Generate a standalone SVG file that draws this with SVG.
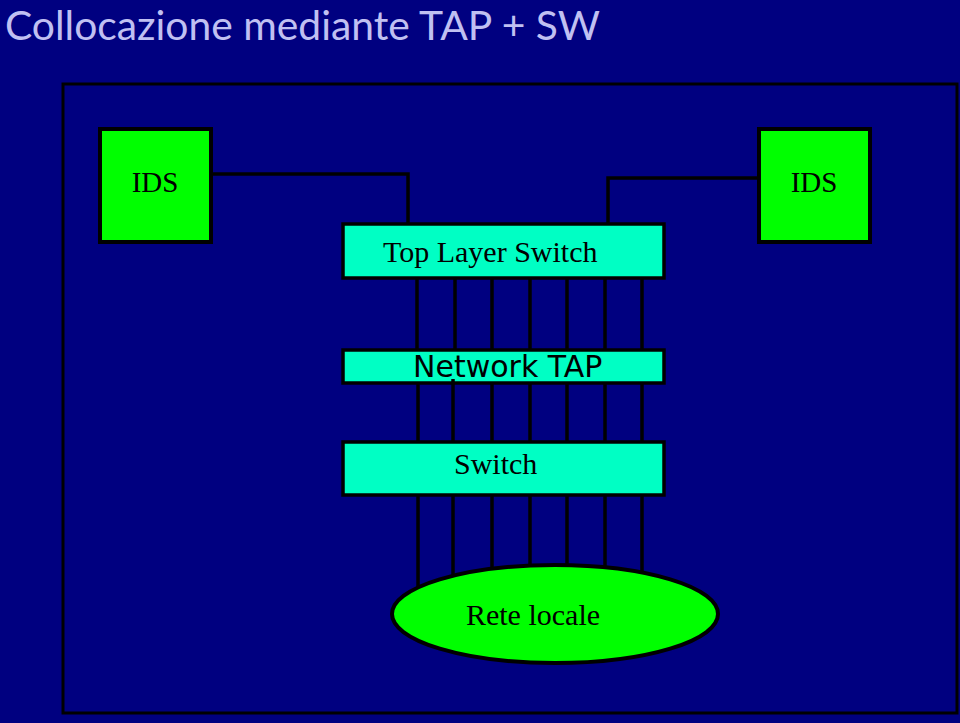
<svg xmlns="http://www.w3.org/2000/svg" width="960" height="723" viewBox="0 0 960 723">
<style>
.bg{fill:#000080}
.frame{fill:none;stroke:#000;stroke-width:3}
.ids{fill:#00ff00;stroke:#000;stroke-width:4}
.box{fill:#00ffc4;stroke:#000;stroke-width:3.5}
.lan{fill:#00ff00;stroke:#000;stroke-width:4}
.wire{fill:none;stroke:#000;stroke-width:3.5}
.serif{font-family:"Liberation Serif","Times New Roman",serif;fill:#000}
.sans{font-family:"DejaVu Sans","Verdana",sans-serif;fill:#000}
.title{font-family:Lato,"Open Sans",sans-serif;fill:#c0c0f2;font-size:40.8px}
</style>
<rect class="bg" x="0" y="0" width="960" height="723"/>
<text class="title" x="5" y="40">Collocazione mediante TAP + SW</text>
<rect class="frame" x="63" y="84" width="894" height="629"/>
<g id="connectors">
<polyline class="wire" points="211,174 408,174 408,224"/>
<polyline class="wire" points="759,178 608,178 608,224"/>
<line class="wire" x1="417" y1="278" x2="417" y2="350"/>
<line class="wire" x1="455" y1="278" x2="455" y2="350"/>
<line class="wire" x1="492" y1="278" x2="492" y2="350"/>
<line class="wire" x1="530" y1="278" x2="530" y2="350"/>
<line class="wire" x1="567" y1="278" x2="567" y2="350"/>
<line class="wire" x1="605" y1="278" x2="605" y2="350"/>
<line class="wire" x1="642" y1="278" x2="642" y2="350"/>
<line class="wire" x1="418" y1="383" x2="418" y2="442"/>
<line class="wire" x1="453" y1="378" x2="453" y2="442"/>
<line class="wire" x1="492" y1="383" x2="492" y2="442"/>
<line class="wire" x1="530" y1="383" x2="530" y2="442"/>
<line class="wire" x1="567" y1="383" x2="567" y2="442"/>
<line class="wire" x1="605" y1="383" x2="605" y2="442"/>
<line class="wire" x1="642" y1="383" x2="642" y2="442"/>
<line class="wire" x1="418" y1="495" x2="418" y2="600"/>
<line class="wire" x1="453" y1="495" x2="453" y2="600"/>
<line class="wire" x1="492" y1="495" x2="492" y2="600"/>
<line class="wire" x1="530" y1="495" x2="530" y2="600"/>
<line class="wire" x1="567" y1="495" x2="567" y2="600"/>
<line class="wire" x1="605" y1="495" x2="605" y2="600"/>
<line class="wire" x1="642" y1="495" x2="642" y2="600"/>
</g>
<g id="ids-left">
<rect class="ids" x="100" y="129" width="111" height="113"/>
<text class="serif" x="155" y="192" font-size="29" text-anchor="middle">IDS</text>
</g>
<g id="ids-right">
<rect class="ids" x="759" y="129" width="111" height="113"/>
<text class="serif" x="814" y="192" font-size="29" text-anchor="middle">IDS</text>
</g>
<g id="top-layer-switch">
<rect class="box" x="343" y="224" width="321" height="54"/>
<text class="serif" x="383" y="262" font-size="30">Top Layer Switch</text>
</g>
<g id="network-tap">
<rect class="box" x="343" y="350" width="321" height="33"/>
<text class="sans" x="413" y="377" font-size="30">Network TAP</text>
<line class="wire" x1="453" y1="379" x2="453" y2="385"/>
</g>
<g id="switch">
<rect class="box" x="343" y="442" width="321" height="53"/>
<text class="serif" x="454" y="474" font-size="30">Switch</text>
</g>
<g id="rete-locale">
<ellipse class="lan" cx="555" cy="614" rx="163" ry="49"/>
<text class="serif" x="533" y="625" font-size="30" text-anchor="middle">Rete locale</text>
</g>
</svg>
